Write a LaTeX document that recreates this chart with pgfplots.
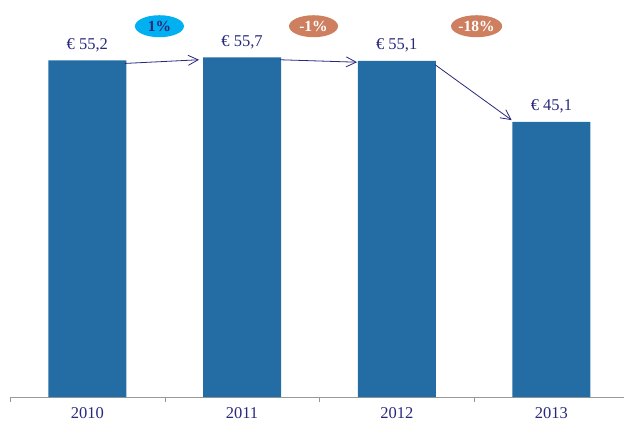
\documentclass[border=0pt]{standalone}
\usepackage{pgfplots}
\pgfplotsset{compat=1.18}
\usepackage{fontspec}
\setmainfont{Liberation Serif}
\usetikzlibrary{arrows.meta,shapes.geometric}
\definecolor{barblue}{RGB}{36,108,164}
\definecolor{navy}{RGB}{40,40,125}
\definecolor{cyanb}{RGB}{0,176,240}
\definecolor{terra}{RGB}{205,127,95}
\begin{document}
\begin{tikzpicture}
\path[use as bounding box] (-10pt,-24pt) rectangle (614pt,397pt);
\begin{axis}[
  at={(0,0)}, anchor=south west,
  scale only axis, width=614pt, height=397pt,
  xmin=-0.5, xmax=3.469, ymin=0, ymax=65.1,
  axis x line=bottom, axis y line=none,
  axis line style={draw=gray!80, -},
  xtick={0,1,2,3}, xticklabels={2010,2011,2012,2013},
  major tick length=0pt,
  minor xtick={-0.5,0.5,1.5,2.5},
  minor tick length=5pt, xtick align=outside,
  tick style={draw=gray!80},
  xticklabel style={font=\fontsize{16.5}{19}\selectfont, text=navy, yshift=-7pt},
  ybar, bar width=78pt,
  nodes near coords, point meta=explicit symbolic,
  every node near coord/.append style={font=\fontsize{16.5}{19}\selectfont, text=navy, anchor=base, yshift=11pt},
]
\addplot[fill=barblue, draw=none] coordinates {
  (0,55.2) [€ 55,2]
  (1,55.7) [€ 55,7]
  (2,55.1) [€ 55,1]
  (3,45.1) [€ 45,1]
};
\draw[navy, line width=0.8pt, -{Straight Barb[length=10pt,width=10pt]}] (axis cs:0.243,54.7) -- (axis cs:0.722,55.3);
\draw[navy, line width=0.8pt, -{Straight Barb[length=10pt,width=10pt]}] (axis cs:1.245,55.3) -- (axis cs:1.743,54.9);
\draw[navy, line width=0.8pt, -{Straight Barb[length=10pt,width=10pt]}] (axis cs:2.247,54.5) -- (axis cs:2.743,45.4);
\node[ellipse, fill=cyanb, minimum width=49pt, minimum height=22pt, inner sep=0pt, font=\bfseries\fontsize{15.5}{18}\selectfont, text=navy] at (axis cs:0.466,60.8) {1\%};
\node[ellipse, fill=terra, minimum width=49pt, minimum height=22pt, inner sep=0pt, font=\bfseries\fontsize{15.5}{18}\selectfont, text=white] at (axis cs:1.462,60.8) {-1\%};
\node[ellipse, fill=terra, minimum width=49pt, minimum height=22pt, inner sep=0pt, font=\bfseries\fontsize{15.5}{18}\selectfont, text=white] at (axis cs:2.516,60.8) {-18\%};
\end{axis}
\end{tikzpicture}
\end{document}
